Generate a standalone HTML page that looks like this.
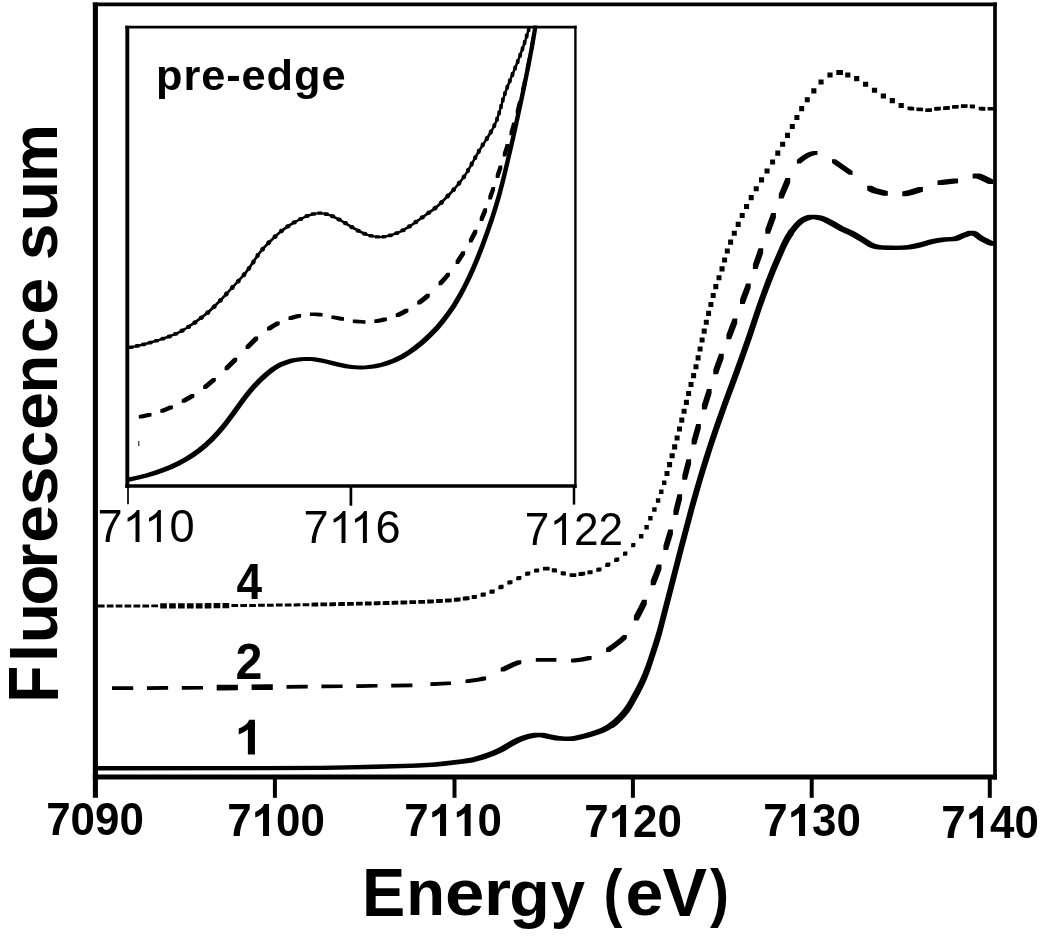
<!DOCTYPE html>
<html><head><meta charset="utf-8"><title>Fluorescence sum vs Energy</title>
<style>
html,body{margin:0;padding:0;background:#fff;}
body{filter:grayscale(1) blur(0.45px);width:1050px;height:937px;overflow:hidden;position:relative;font-family:"Liberation Sans",sans-serif;color:#000;}
svg{position:absolute;left:0;top:0;}
.t{position:absolute;white-space:nowrap;line-height:1;font-family:"Liberation Sans",sans-serif;}
.b{font-weight:bold;}
</style></head><body>
<svg width="1050" height="937" viewBox="0 0 1050 937">
<rect width="1050" height="937" fill="#fff"/>

<g fill="none" stroke="#000" stroke-linejoin="miter">
<path d="M95.4 2.4 V797.8" stroke-width="5.1"/>
<path d="M92.85 4.3 H996.85" stroke-width="3.85"/>
<path d="M995 2.4 V779.6" stroke-width="3.7"/>
<path d="M92.85 777.1 H996.85" stroke-width="5"/>
<path d="M274.9 777 V797.8" stroke-width="4"/>
<path d="M454.5 777 V797.8" stroke-width="4"/>
<path d="M632.9 777 V797.8" stroke-width="4"/>
<path d="M811.7 777 V797.8" stroke-width="4"/>
<path d="M989.8 777 V797.8" stroke-width="4"/>
<path d="M127.3 25.8 V487.9" stroke-width="3.9"/>
<path d="M125.35 27.2 H576.6" stroke-width="2.8"/>
<path d="M575.4 25.8 V487.9" stroke-width="2.4"/>
<path d="M125.35 486 H576.6" stroke-width="3.7"/>
<path d="M128 486 V504.3" stroke-width="1.7"/>
<path d="M350.9 486 V505.7" stroke-width="2.7"/>
<path d="M574 486 V504.6" stroke-width="2.5"/>
<path d="M138.8 441 V446" stroke-width="1"/>
</g>
<path fill="#000" d="M95.7 766.1L264.4 765.9L320.9 765.7L346.0 765.3L374.0 764.6L413.4 763.4L432.0 762.4L439.6 761.7L461.0 759.2L468.5 758.0L471.4 757.4L475.9 756.2L480.6 754.8L486.6 752.7L491.3 750.9L495.8 749.0L500.2 746.8L507.5 742.4L513.1 739.3L515.8 738.0L520.1 736.2L524.6 734.7L529.3 733.6L534.5 732.8L537.8 732.7L542.2 737.1L538.9 737.2L533.7 737.9L529.0 739.1L524.5 740.6L520.2 742.3L517.4 743.7L511.8 746.8L504.5 751.2L500.1 753.3L495.7 755.3L491.0 757.1L484.9 759.2L480.2 760.6L475.7 761.8L472.8 762.4L465.4 763.6L444.0 766.1L436.4 766.8L417.8 767.7L378.4 768.9L350.4 769.6L325.2 770.0L268.8 770.3L100.1 770.5ZM95.7 766.1h4.3v4.3h-4.3ZM537.8 732.7h4.3v4.3h-4.3ZM542.2 732.7L545.2 733.1L551.2 734.4L559.7 736.0L564.8 736.5L569.9 736.7L565.6 741.0L560.4 740.8L555.3 740.4L546.8 738.8L540.9 737.4L537.8 737.1ZM537.8 732.7h4.3v4.3h-4.3ZM565.6 736.7h4.3v4.3h-4.3ZM565.6 736.7L569.0 736.5L573.5 735.9L584.0 733.4L589.9 731.8L596.0 729.7L600.6 727.9L604.9 725.7L608.9 723.3L613.3 727.6L609.3 730.1L604.9 732.2L600.3 734.1L594.3 736.1L588.4 737.8L577.9 740.2L573.4 740.9L569.9 741.0ZM565.6 736.7h4.3v4.3h-4.3ZM608.9 723.3h4.3v4.3h-4.3Z"/>
<path fill="#000" d="M608.7 723.1L611.2 721.3L613.7 719.2L618.3 714.8L622.6 709.8L624.6 707.1L626.4 704.4L628.9 700.2L635.1 689.1L638.6 682.3L642.3 674.1L645.6 665.4L648.1 658.3L654.3 638.9L657.0 629.9L679.5 542.7L689.6 504.7L693.5 490.9L698.9 472.4L703.9 456.2L708.1 443.2L714.0 425.7L722.4 402.0L734.1 370.3L741.4 350.0L747.3 333.0L756.2 306.6L761.0 292.9L765.2 281.5L771.1 266.6L780.4 244.9L782.3 241.0L784.8 236.3L787.3 232.2L788.9 229.7L793.7 234.4L792.0 237.0L789.6 241.1L787.1 245.8L785.2 249.7L775.9 271.3L770.0 286.2L765.8 297.6L760.9 311.3L752.1 337.7L746.1 354.7L738.9 375.0L727.1 406.7L718.7 430.5L712.8 448.0L708.7 460.9L703.7 477.1L698.3 495.7L694.4 509.4L684.3 547.5L661.8 634.7L659.1 643.7L652.8 663.0L650.4 670.2L647.0 678.9L643.4 687.0L639.8 693.9L633.7 705.0L631.2 709.2L629.4 711.9L627.4 714.5L623.0 719.5L618.4 724.0L616.0 726.0L613.5 727.8ZM608.7 723.1h4.8v4.8h-4.8ZM788.9 229.7h4.8v4.8h-4.8Z"/>
<path fill="#000" d="M788.3 231.1L791.1 227.3L794.2 223.4L796.4 221.2L798.6 219.2L801.4 217.5L804.4 216.1L807.4 215.1L810.5 214.7L814.8 219.0L811.7 219.4L808.7 220.4L805.7 221.8L802.9 223.6L800.7 225.5L798.5 227.7L795.4 231.6L792.6 235.4ZM788.3 231.1h4.3v4.3h-4.3ZM810.5 214.7h4.3v4.3h-4.3ZM814.8 214.7L818.2 214.9L821.6 215.6L824.8 216.5L827.8 217.8L835.1 221.6L843.9 226.8L852.7 230.6L855.6 232.1L865.4 238.0L872.0 242.2L874.7 243.5L876.0 244.0L879.0 244.8L882.0 245.2L891.5 245.6L896.5 245.8L892.2 250.1L887.2 249.9L877.8 249.5L874.7 249.1L871.8 248.3L870.4 247.8L867.7 246.5L861.1 242.3L851.3 236.4L848.4 234.9L839.6 231.1L830.8 225.9L823.5 222.1L820.5 220.8L817.3 219.9L813.9 219.2L810.5 219.0ZM810.5 214.7h4.3v4.3h-4.3ZM892.2 245.8h4.3v4.3h-4.3ZM892.2 245.8L901.6 245.5L907.6 244.9L912.1 244.1L916.6 243.1L921.0 242.0L928.6 239.7L933.1 238.7L937.6 237.9L943.5 237.2L950.5 236.9L953.8 236.4L955.3 236.0L960.8 233.5L965.7 231.7L967.4 231.1L969.1 230.8L973.4 235.1L971.7 235.4L970.0 236.0L965.1 237.8L959.6 240.3L958.0 240.8L954.8 241.2L947.8 241.6L941.9 242.2L937.4 243.0L932.9 244.0L925.3 246.3L920.9 247.4L916.4 248.4L911.9 249.2L905.9 249.8L896.5 250.1ZM892.2 245.8h4.3v4.3h-4.3ZM969.1 230.8h4.3v4.3h-4.3ZM973.4 230.8L975.1 230.9L976.6 231.4L978.0 232.3L982.2 235.5L985.1 237.3L992.1 240.7L994.4 241.4L995.5 241.5L991.2 245.8L990.1 245.7L987.9 245.0L980.8 241.6L977.9 239.8L973.7 236.6L972.3 235.7L970.9 235.2L969.1 235.1ZM969.1 230.8h4.3v4.3h-4.3ZM991.2 241.5h4.3v4.3h-4.3Z"/>
<path fill="#000" d="M112.0 686.2L129.5 686.2L133.2 689.9L115.7 689.9ZM112.0 686.2h3.7v3.7h-3.7ZM129.5 686.2h3.7v3.7h-3.7ZM146.9 686.2L164.4 686.1L168.1 689.8L150.6 689.9ZM146.9 686.2h3.7v3.7h-3.7ZM164.4 686.1h3.7v3.7h-3.7ZM181.8 686.0L199.3 685.9L203.0 689.6L185.5 689.7ZM181.8 686.0h3.7v3.7h-3.7ZM199.3 685.9h3.7v3.7h-3.7ZM216.7 684.8L232.3 684.7L237.9 690.3L222.3 690.4ZM216.7 684.8h5.6v5.6h-5.6ZM232.3 684.7h5.6v5.6h-5.6ZM251.6 684.4L267.2 684.3L272.8 689.9L257.2 690.0ZM251.6 684.4h5.6v5.6h-5.6ZM267.2 684.3h5.6v5.6h-5.6ZM286.5 685.0L304.0 684.8L307.7 688.5L290.2 688.7ZM286.5 685.0h3.7v3.7h-3.7ZM304.0 684.8h3.7v3.7h-3.7ZM321.4 684.6L338.9 684.4L342.6 688.1L325.1 688.3ZM321.4 684.6h3.7v3.7h-3.7ZM338.9 684.4h3.7v3.7h-3.7ZM356.3 684.2L373.8 683.9L377.5 687.6L360.0 687.9ZM356.3 684.2h3.7v3.7h-3.7ZM373.8 683.9h3.7v3.7h-3.7ZM391.2 683.7L408.7 683.5L412.4 687.2L394.9 687.4ZM391.2 683.7h3.7v3.7h-3.7ZM408.7 683.5h3.7v3.7h-3.7Z"/>
<path fill="#000" d="M430.4 682.2L447.3 681.4L451.0 685.1L434.1 685.9ZM430.4 682.2h3.7v3.7h-3.7ZM447.3 681.4h3.7v3.7h-3.7ZM465.5 679.4L475.8 677.9L478.9 677.4L482.4 676.5L486.1 680.2L482.6 681.1L479.5 681.6L469.2 683.1ZM465.5 679.4h3.7v3.7h-3.7ZM482.4 676.5h3.7v3.7h-3.7ZM500.7 667.7L511.7 662.6L517.6 660.3L521.3 664.0L515.4 666.3L504.4 671.4ZM500.7 667.7h3.7v3.7h-3.7ZM517.6 660.3h3.7v3.7h-3.7ZM535.8 658.0L540.0 657.9L543.7 661.6L539.5 661.7ZM535.8 658.0h3.7v3.7h-3.7ZM540.0 657.9h3.7v3.7h-3.7ZM543.7 657.9L556.4 658.1L552.7 661.8L540.0 661.6ZM540.0 657.9h3.7v3.7h-3.7ZM552.7 658.1h3.7v3.7h-3.7ZM571.0 658.7L579.6 657.7L584.6 656.8L587.9 656.0L591.6 659.7L588.3 660.5L583.3 661.4L574.7 662.4ZM571.0 658.7h3.7v3.7h-3.7ZM587.9 656.0h3.7v3.7h-3.7ZM606.1 648.1L611.3 644.5L615.3 641.5L619.1 638.4L623.0 634.9L626.8 638.7L622.9 642.2L619.1 645.3L615.1 648.3L609.9 651.9ZM606.1 648.1h3.8v3.8h-3.8ZM623.0 634.9h3.8v3.8h-3.8ZM633.9 615.7L638.3 607.4L642.1 599.8L646.8 604.5L643.0 612.1L638.6 620.4ZM633.9 615.7h4.7v4.7h-4.7ZM642.1 599.8h4.7v4.7h-4.7ZM650.7 580.5L654.0 572.3L656.8 564.6L661.5 569.3L658.7 577.0L655.4 585.2ZM650.7 580.5h4.7v4.7h-4.7ZM656.8 564.6h4.7v4.7h-4.7ZM663.4 545.4L668.2 529.5L672.9 534.2L668.1 550.1ZM663.4 545.4h4.7v4.7h-4.7ZM668.2 529.5h4.7v4.7h-4.7ZM673.4 510.2L677.4 494.3L682.1 499.0L678.1 514.9ZM673.4 510.2h4.7v4.7h-4.7ZM677.4 494.3h4.7v4.7h-4.7ZM682.3 475.1L686.4 459.2L691.1 463.9L687.0 479.8ZM682.3 475.1h4.7v4.7h-4.7ZM686.4 459.2h4.7v4.7h-4.7ZM691.6 439.9L696.1 424.0L700.8 428.7L696.3 444.6ZM691.6 439.9h4.7v4.7h-4.7ZM696.1 424.0h4.7v4.7h-4.7ZM701.9 404.8L706.9 388.9L711.6 393.6L706.6 409.5ZM701.9 404.8h4.7v4.7h-4.7ZM706.9 388.9h4.7v4.7h-4.7ZM713.3 369.6L719.0 353.7L723.7 358.4L718.0 374.3ZM713.3 369.6h4.7v4.7h-4.7ZM719.0 353.7h4.7v4.7h-4.7ZM726.4 334.5L732.6 318.6L737.3 323.3L731.1 339.2ZM726.4 334.5h4.7v4.7h-4.7ZM732.6 318.6h4.7v4.7h-4.7ZM740.0 299.3L746.0 283.4L750.7 288.1L744.7 304.0ZM740.0 299.3h4.7v4.7h-4.7ZM746.0 283.4h4.7v4.7h-4.7ZM752.9 264.2L758.5 248.3L763.2 253.0L757.6 268.9ZM752.9 264.2h4.7v4.7h-4.7ZM758.5 248.3h4.7v4.7h-4.7ZM765.3 229.0L771.2 213.1L775.9 217.8L770.0 233.7ZM765.3 229.0h4.7v4.7h-4.7ZM771.2 213.1h4.7v4.7h-4.7ZM778.8 193.9L785.5 178.0L790.2 182.7L783.5 198.6ZM778.8 193.9h4.7v4.7h-4.7ZM785.5 178.0h4.7v4.7h-4.7ZM796.9 159.8L799.4 157.8L802.0 155.8L806.1 153.3L809.0 152.0L810.7 151.5L813.7 150.9L817.5 154.7L814.5 155.3L812.8 155.8L809.9 157.1L805.8 159.6L803.2 161.6L800.7 163.6ZM796.9 159.8h3.8v3.8h-3.8ZM813.7 150.9h3.8v3.8h-3.8ZM835.8 159.2L852.6 171.0L848.8 174.8L832.0 163.0ZM832.0 159.2h3.8v3.8h-3.8ZM848.8 171.0h3.8v3.8h-3.8ZM871.9 185.7L873.7 186.8L876.8 188.2L887.8 191.1L883.1 195.8L872.1 192.9L869.0 191.5L867.2 190.4ZM867.2 185.7h4.7v4.7h-4.7ZM883.1 191.1h4.7v4.7h-4.7ZM902.3 191.6L908.7 190.0L918.2 187.1L922.9 191.8L913.4 194.7L907.0 196.3ZM902.3 191.6h4.7v4.7h-4.7ZM918.2 187.1h4.7v4.7h-4.7ZM937.5 180.4L942.5 179.7L953.4 178.6L958.1 183.3L947.2 184.4L942.2 185.1ZM937.5 180.4h4.7v4.7h-4.7ZM953.4 178.6h4.7v4.7h-4.7ZM972.6 173.7L974.8 173.5L979.5 178.2L977.3 178.4ZM972.6 173.7h4.7v4.7h-4.7ZM974.8 173.5h4.7v4.7h-4.7ZM979.5 173.5L980.8 173.8L984.1 175.1L993.2 179.4L988.5 184.1L979.4 179.8L976.1 178.5L974.8 178.2ZM974.8 173.5h4.7v4.7h-4.7ZM988.5 179.4h4.7v4.7h-4.7Z"/>
<path fill="#000" d="M97.9 604.6L101.8 604.6L104.6 607.4L100.7 607.4ZM97.9 604.6h2.8v2.8h-2.8ZM101.8 604.6h2.8v2.8h-2.8ZM106.8 604.6L110.7 604.6L113.5 607.4L109.6 607.4ZM106.8 604.6h2.8v2.8h-2.8ZM110.7 604.6h2.8v2.8h-2.8ZM115.7 604.6L119.6 604.6L122.4 607.4L118.5 607.4ZM115.7 604.6h2.8v2.8h-2.8ZM119.6 604.6h2.8v2.8h-2.8ZM124.6 604.6L128.5 604.6L131.3 607.4L127.4 607.4ZM124.6 604.6h2.8v2.8h-2.8ZM128.5 604.6h2.8v2.8h-2.8ZM133.5 604.6L137.4 604.6L140.2 607.4L136.3 607.4ZM133.5 604.6h2.8v2.8h-2.8ZM137.4 604.6h2.8v2.8h-2.8ZM142.4 604.6L146.3 604.6L149.1 607.4L145.2 607.4ZM142.4 604.6h2.8v2.8h-2.8ZM146.3 604.6h2.8v2.8h-2.8ZM151.3 604.5L155.2 604.5L158.0 607.3L154.1 607.3ZM151.3 604.5h2.8v2.8h-2.8ZM155.2 604.5h2.8v2.8h-2.8ZM160.2 603.3L161.7 603.3L166.9 608.5L165.4 608.5ZM160.2 603.3h5.2v5.2h-5.2ZM161.7 603.3h5.2v5.2h-5.2ZM169.1 603.3L170.6 603.3L175.8 608.5L174.3 608.5ZM169.1 603.3h5.2v5.2h-5.2ZM170.6 603.3h5.2v5.2h-5.2ZM178.0 603.3L179.5 603.3L184.7 608.5L183.2 608.5ZM178.0 603.3h5.2v5.2h-5.2ZM179.5 603.3h5.2v5.2h-5.2ZM186.9 603.3L188.4 603.2L193.6 608.4L192.1 608.5ZM186.9 603.3h5.2v5.2h-5.2ZM188.4 603.2h5.2v5.2h-5.2ZM195.8 603.2L197.3 603.2L202.5 608.4L201.0 608.4ZM195.8 603.2h5.2v5.2h-5.2ZM197.3 603.2h5.2v5.2h-5.2ZM204.7 603.2L206.2 603.1L211.4 608.3L209.9 608.4ZM204.7 603.2h5.2v5.2h-5.2ZM206.2 603.1h5.2v5.2h-5.2ZM213.6 603.1L215.1 603.1L220.3 608.3L218.8 608.3ZM213.6 603.1h5.2v5.2h-5.2ZM215.1 603.1h5.2v5.2h-5.2ZM222.5 603.0L224.0 603.0L229.2 608.2L227.7 608.2ZM222.5 603.0h5.2v5.2h-5.2ZM224.0 603.0h5.2v5.2h-5.2ZM231.4 604.1L235.1 604.0L238.1 607.0L234.4 607.1ZM231.4 604.1h3.0v3.0h-3.0ZM235.1 604.0h3.0v3.0h-3.0ZM240.3 604.0L244.0 603.9L247.0 606.9L243.3 607.0ZM240.3 604.0h3.0v3.0h-3.0ZM244.0 603.9h3.0v3.0h-3.0ZM249.2 603.9L252.9 603.9L255.9 606.9L252.2 606.9ZM249.2 603.9h3.0v3.0h-3.0ZM252.9 603.9h3.0v3.0h-3.0ZM258.1 603.8L261.8 603.8L264.8 606.8L261.1 606.8ZM258.1 603.8h3.0v3.0h-3.0ZM261.8 603.8h3.0v3.0h-3.0ZM267.0 603.7L270.7 603.7L273.7 606.7L270.0 606.7ZM267.0 603.7h3.0v3.0h-3.0ZM270.7 603.7h3.0v3.0h-3.0ZM275.9 603.6L279.6 603.6L282.6 606.6L278.9 606.6ZM275.9 603.6h3.0v3.0h-3.0ZM279.6 603.6h3.0v3.0h-3.0ZM284.8 603.5L288.5 603.4L291.5 606.4L287.8 606.5ZM284.8 603.5h3.0v3.0h-3.0ZM288.5 603.4h3.0v3.0h-3.0ZM293.7 603.4L297.4 603.3L300.4 606.3L296.7 606.4ZM293.7 603.4h3.0v3.0h-3.0ZM297.4 603.3h3.0v3.0h-3.0ZM302.6 603.2L306.3 603.2L309.3 606.2L305.6 606.2ZM302.6 603.2h3.0v3.0h-3.0ZM306.3 603.2h3.0v3.0h-3.0ZM311.5 602.7L314.4 602.6L318.2 606.4L315.3 606.5ZM311.5 602.7h3.8v3.8h-3.8ZM314.4 602.6h3.8v3.8h-3.8ZM320.4 602.5L323.3 602.5L327.1 606.3L324.2 606.3ZM320.4 602.5h3.8v3.8h-3.8ZM323.3 602.5h3.8v3.8h-3.8ZM329.3 602.4L332.2 602.3L336.0 606.1L333.1 606.2ZM329.3 602.4h3.8v3.8h-3.8ZM332.2 602.3h3.8v3.8h-3.8ZM338.2 602.2L341.1 602.1L344.9 605.9L342.0 606.0ZM338.2 602.2h3.8v3.8h-3.8ZM341.1 602.1h3.8v3.8h-3.8ZM347.1 602.0L350.0 602.0L353.8 605.8L350.9 605.8ZM347.1 602.0h3.8v3.8h-3.8ZM350.0 602.0h3.8v3.8h-3.8ZM356.0 601.8L358.9 601.8L362.7 605.6L359.8 605.6ZM356.0 601.8h3.8v3.8h-3.8ZM358.9 601.8h3.8v3.8h-3.8ZM364.9 601.6L367.8 601.6L371.6 605.4L368.7 605.4ZM364.9 601.6h3.8v3.8h-3.8ZM367.8 601.6h3.8v3.8h-3.8ZM373.8 601.4L376.7 601.3L380.5 605.1L377.6 605.2ZM373.8 601.4h3.8v3.8h-3.8ZM376.7 601.3h3.8v3.8h-3.8ZM382.7 601.2L385.6 601.1L389.4 604.9L386.5 605.0ZM382.7 601.2h3.8v3.8h-3.8ZM385.6 601.1h3.8v3.8h-3.8ZM391.6 600.9L394.5 600.8L398.3 604.6L395.4 604.7ZM391.6 600.9h3.8v3.8h-3.8ZM394.5 600.8h3.8v3.8h-3.8ZM400.5 600.6L403.4 600.5L407.2 604.3L404.3 604.4ZM400.5 600.6h3.8v3.8h-3.8ZM403.4 600.5h3.8v3.8h-3.8ZM409.4 600.3L412.3 600.2L416.1 604.0L413.2 604.1ZM409.4 600.3h3.8v3.8h-3.8ZM412.3 600.2h3.8v3.8h-3.8ZM418.3 600.0L421.2 599.9L425.0 603.7L422.1 603.8ZM418.3 600.0h3.8v3.8h-3.8ZM421.2 599.9h3.8v3.8h-3.8ZM427.2 599.6L430.1 599.5L433.9 603.3L431.0 603.4ZM427.2 599.6h3.8v3.8h-3.8ZM430.1 599.5h3.8v3.8h-3.8ZM436.1 599.1L439.0 598.9L442.8 602.7L439.9 602.9ZM436.1 599.1h3.8v3.8h-3.8ZM439.0 598.9h3.8v3.8h-3.8ZM445.0 598.7L447.9 598.5L451.7 602.3L448.8 602.5ZM445.0 598.7h3.8v3.8h-3.8ZM447.9 598.5h3.8v3.8h-3.8ZM453.9 597.9L456.8 597.5L460.6 601.3L457.7 601.7ZM453.9 597.9h3.8v3.8h-3.8ZM456.8 597.5h3.8v3.8h-3.8ZM462.8 596.8L465.7 596.3L469.5 600.1L466.6 600.6ZM462.8 596.8h3.8v3.8h-3.8ZM465.7 596.3h3.8v3.8h-3.8ZM471.7 595.2L473.1 594.9L476.9 598.7L475.5 599.0ZM471.7 595.2h3.8v3.8h-3.8ZM473.1 594.9h3.8v3.8h-3.8ZM480.6 593.0L482.0 592.5L485.8 596.3L484.4 596.8ZM480.6 593.0h3.8v3.8h-3.8ZM482.0 592.5h3.8v3.8h-3.8ZM489.5 590.0L490.9 589.4L494.7 593.2L493.3 593.8ZM489.5 590.0h3.8v3.8h-3.8ZM490.9 589.4h3.8v3.8h-3.8ZM498.4 585.7L500.0 584.8L503.6 588.4L502.0 589.3ZM498.4 585.7h3.6v3.6h-3.6ZM500.0 584.8h3.6v3.6h-3.6ZM507.3 581.0L508.9 580.2L512.5 583.8L510.9 584.6ZM507.3 581.0h3.6v3.6h-3.6ZM508.9 580.2h3.6v3.6h-3.6ZM516.2 576.7L517.8 575.9L521.4 579.5L519.8 580.3ZM516.2 576.7h3.6v3.6h-3.6ZM517.8 575.9h3.6v3.6h-3.6ZM525.1 572.2L526.7 571.4L530.3 575.0L528.7 575.8ZM525.1 572.2h3.6v3.6h-3.6ZM526.7 571.4h3.6v3.6h-3.6ZM534.0 569.0L535.6 568.6L539.2 572.2L537.6 572.6ZM534.0 569.0h3.6v3.6h-3.6ZM535.6 568.6h3.6v3.6h-3.6ZM542.9 566.9L544.9 566.8L548.5 570.4L546.5 570.5ZM542.9 566.9h3.6v3.6h-3.6ZM544.9 566.8h3.6v3.6h-3.6ZM548.5 566.8L549.6 566.9L546.0 570.5L544.9 570.4ZM544.9 566.8h3.6v3.6h-3.6ZM546.0 566.9h3.6v3.6h-3.6ZM555.4 568.3L557.0 568.8L553.4 572.4L551.8 571.9ZM551.8 568.3h3.6v3.6h-3.6ZM553.4 568.8h3.6v3.6h-3.6ZM564.3 571.3L565.9 571.8L562.3 575.4L560.7 574.9ZM560.7 571.3h3.6v3.6h-3.6ZM562.3 571.8h3.6v3.6h-3.6ZM573.2 573.2L575.0 573.3L571.4 576.9L569.6 576.8ZM569.6 573.2h3.6v3.6h-3.6ZM571.4 573.3h3.6v3.6h-3.6ZM571.4 573.3L572.7 573.2L576.3 576.8L575.0 576.9ZM571.4 573.3h3.6v3.6h-3.6ZM572.7 573.2h3.6v3.6h-3.6ZM578.5 572.3L581.6 571.7L585.2 575.3L582.1 575.9ZM578.5 572.3h3.6v3.6h-3.6ZM581.6 571.7h3.6v3.6h-3.6ZM587.4 570.7L589.0 570.3L592.6 573.9L591.0 574.3ZM587.4 570.7h3.6v3.6h-3.6ZM589.0 570.3h3.6v3.6h-3.6ZM596.3 568.1L597.9 567.4L601.5 571.0L599.9 571.7ZM596.3 568.1h3.6v3.6h-3.6ZM597.9 567.4h3.6v3.6h-3.6ZM605.2 563.4L606.8 562.5L610.4 566.1L608.8 567.0ZM605.2 563.4h3.6v3.6h-3.6ZM606.8 562.5h3.6v3.6h-3.6ZM614.1 558.5L615.7 557.5L619.3 561.1L617.7 562.1ZM614.1 558.5h3.6v3.6h-3.6ZM615.7 557.5h3.6v3.6h-3.6ZM623.0 552.2L623.8 551.5L627.4 555.1L626.6 555.8ZM623.0 552.2h3.6v3.6h-3.6ZM623.8 551.5h3.6v3.6h-3.6ZM631.1 543.7L631.8 542.9L635.4 546.5L634.7 547.3ZM631.1 543.7h3.6v3.6h-3.6ZM631.8 542.9h3.6v3.6h-3.6ZM638.9 534.0L639.0 533.9L643.4 538.3L643.3 538.4ZM638.9 534.0h4.4v4.4h-4.4ZM639.0 533.9h4.4v4.4h-4.4ZM644.4 525.1L644.4 525.0L648.8 529.4L648.8 529.5ZM644.4 525.1h4.4v4.4h-4.4ZM644.4 525.0h4.4v4.4h-4.4ZM648.2 516.2L648.2 516.1L652.6 520.5L652.6 520.6ZM648.2 516.2h4.4v4.4h-4.4ZM648.2 516.1h4.4v4.4h-4.4ZM652.2 507.3L652.2 507.2L656.6 511.6L656.6 511.7ZM652.2 507.3h4.4v4.4h-4.4ZM652.2 507.2h4.4v4.4h-4.4ZM655.9 498.4L655.9 498.3L660.3 502.7L660.3 502.8ZM655.9 498.4h4.4v4.4h-4.4ZM655.9 498.3h4.4v4.4h-4.4ZM659.1 489.5L659.1 489.4L663.5 493.8L663.5 493.9ZM659.1 489.5h4.4v4.4h-4.4ZM659.1 489.4h4.4v4.4h-4.4ZM662.0 480.6L662.0 480.5L666.4 484.9L666.4 485.0ZM662.0 480.6h4.4v4.4h-4.4ZM662.0 480.5h4.4v4.4h-4.4ZM664.5 471.1L664.5 471.0L669.5 476.0L669.5 476.1ZM664.5 471.1h5.0v5.0h-5.0ZM664.5 471.0h5.0v5.0h-5.0ZM667.1 462.2L667.1 462.1L672.1 467.1L672.1 467.2ZM667.1 462.2h5.0v5.0h-5.0ZM667.1 462.1h5.0v5.0h-5.0ZM669.6 453.3L669.7 453.2L674.7 458.2L674.6 458.3ZM669.6 453.3h5.0v5.0h-5.0ZM669.7 453.2h5.0v5.0h-5.0ZM672.1 444.4L672.2 444.3L677.2 449.3L677.1 449.4ZM672.1 444.4h5.0v5.0h-5.0ZM672.2 444.3h5.0v5.0h-5.0ZM674.6 435.5L674.6 435.4L679.6 440.4L679.6 440.5ZM674.6 435.5h5.0v5.0h-5.0ZM674.6 435.4h5.0v5.0h-5.0ZM677.0 426.6L677.0 426.5L682.0 431.5L682.0 431.6ZM677.0 426.6h5.0v5.0h-5.0ZM677.0 426.5h5.0v5.0h-5.0ZM679.3 417.7L679.3 417.6L684.3 422.6L684.3 422.7ZM679.3 417.7h5.0v5.0h-5.0ZM679.3 417.6h5.0v5.0h-5.0ZM681.6 408.8L681.6 408.7L686.6 413.7L686.6 413.8ZM681.6 408.8h5.0v5.0h-5.0ZM681.6 408.7h5.0v5.0h-5.0ZM683.9 399.9L683.9 399.8L688.9 404.8L688.9 404.9ZM683.9 399.9h5.0v5.0h-5.0ZM683.9 399.8h5.0v5.0h-5.0ZM686.1 391.0L686.1 390.9L691.1 395.9L691.1 396.0ZM686.1 391.0h5.0v5.0h-5.0ZM686.1 390.9h5.0v5.0h-5.0ZM688.5 382.1L688.5 382.0L693.5 387.0L693.5 387.1ZM688.5 382.1h5.0v5.0h-5.0ZM688.5 382.0h5.0v5.0h-5.0ZM691.1 373.2L691.1 373.1L696.1 378.1L696.1 378.2ZM691.1 373.2h5.0v5.0h-5.0ZM691.1 373.1h5.0v5.0h-5.0ZM693.5 364.3L693.5 364.2L698.5 369.2L698.5 369.3ZM693.5 364.3h5.0v5.0h-5.0ZM693.5 364.2h5.0v5.0h-5.0ZM695.6 355.4L695.6 355.3L700.6 360.3L700.6 360.4ZM695.6 355.4h5.0v5.0h-5.0ZM695.6 355.3h5.0v5.0h-5.0ZM697.6 346.5L697.6 346.4L702.6 351.4L702.6 351.5ZM697.6 346.5h5.0v5.0h-5.0ZM697.6 346.4h5.0v5.0h-5.0ZM699.6 337.6L699.6 337.5L704.6 342.5L704.6 342.6ZM699.6 337.6h5.0v5.0h-5.0ZM699.6 337.5h5.0v5.0h-5.0ZM701.7 328.7L701.7 328.6L706.7 333.6L706.7 333.7ZM701.7 328.7h5.0v5.0h-5.0ZM701.7 328.6h5.0v5.0h-5.0ZM703.8 319.8L703.8 319.7L708.8 324.7L708.8 324.8ZM703.8 319.8h5.0v5.0h-5.0ZM703.8 319.7h5.0v5.0h-5.0ZM706.1 310.9L706.1 310.8L711.1 315.8L711.1 315.9ZM706.1 310.9h5.0v5.0h-5.0ZM706.1 310.8h5.0v5.0h-5.0ZM708.4 302.0L708.4 301.9L713.4 306.9L713.4 307.0ZM708.4 302.0h5.0v5.0h-5.0ZM708.4 301.9h5.0v5.0h-5.0ZM710.7 293.1L710.7 293.0L715.7 298.0L715.7 298.1ZM710.7 293.1h5.0v5.0h-5.0ZM710.7 293.0h5.0v5.0h-5.0ZM713.3 284.2L713.3 284.1L718.3 289.1L718.3 289.2ZM713.3 284.2h5.0v5.0h-5.0ZM713.3 284.1h5.0v5.0h-5.0ZM716.5 275.3L716.5 275.2L721.5 280.2L721.5 280.3ZM716.5 275.3h5.0v5.0h-5.0ZM716.5 275.2h5.0v5.0h-5.0ZM719.5 266.4L719.6 266.3L724.6 271.3L724.5 271.4ZM719.5 266.4h5.0v5.0h-5.0ZM719.6 266.3h5.0v5.0h-5.0ZM722.1 257.5L722.1 257.4L727.1 262.4L727.1 262.5ZM722.1 257.5h5.0v5.0h-5.0ZM722.1 257.4h5.0v5.0h-5.0ZM724.8 248.6L724.8 248.5L729.8 253.5L729.8 253.6ZM724.8 248.6h5.0v5.0h-5.0ZM724.8 248.5h5.0v5.0h-5.0ZM728.1 239.7L728.1 239.6L733.1 244.6L733.1 244.7ZM728.1 239.7h5.0v5.0h-5.0ZM728.1 239.6h5.0v5.0h-5.0ZM731.8 230.8L731.8 230.7L736.8 235.7L736.8 235.8ZM731.8 230.8h5.0v5.0h-5.0ZM731.8 230.7h5.0v5.0h-5.0ZM735.7 221.9L735.7 221.8L740.7 226.8L740.7 226.9ZM735.7 221.9h5.0v5.0h-5.0ZM735.7 221.8h5.0v5.0h-5.0ZM739.7 213.0L739.7 212.9L744.7 217.9L744.7 218.0ZM739.7 213.0h5.0v5.0h-5.0ZM739.7 212.9h5.0v5.0h-5.0ZM744.0 204.1L744.1 204.0L749.1 209.0L749.0 209.1ZM744.0 204.1h5.0v5.0h-5.0ZM744.1 204.0h5.0v5.0h-5.0ZM748.7 195.2L748.7 195.1L753.7 200.1L753.7 200.2ZM748.7 195.2h5.0v5.0h-5.0ZM748.7 195.1h5.0v5.0h-5.0ZM753.7 186.3L753.7 186.2L758.7 191.2L758.7 191.3ZM753.7 186.3h5.0v5.0h-5.0ZM753.7 186.2h5.0v5.0h-5.0ZM759.0 177.4L759.1 177.3L764.1 182.3L764.0 182.4ZM759.0 177.4h5.0v5.0h-5.0ZM759.1 177.3h5.0v5.0h-5.0ZM764.5 168.5L764.6 168.4L769.6 173.4L769.5 173.5ZM764.5 168.5h5.0v5.0h-5.0ZM764.6 168.4h5.0v5.0h-5.0ZM770.1 159.6L770.1 159.5L775.1 164.5L775.1 164.6ZM770.1 159.6h5.0v5.0h-5.0ZM770.1 159.5h5.0v5.0h-5.0ZM775.3 150.7L775.3 150.6L780.3 155.6L780.3 155.7ZM775.3 150.7h5.0v5.0h-5.0ZM775.3 150.6h5.0v5.0h-5.0ZM780.1 141.8L780.2 141.7L785.2 146.7L785.1 146.8ZM780.1 141.8h5.0v5.0h-5.0ZM780.2 141.7h5.0v5.0h-5.0ZM785.0 132.9L785.0 132.8L790.0 137.8L790.0 137.9ZM785.0 132.9h5.0v5.0h-5.0ZM785.0 132.8h5.0v5.0h-5.0ZM789.8 124.0L789.8 123.9L794.8 128.9L794.8 129.0ZM789.8 124.0h5.0v5.0h-5.0ZM789.8 123.9h5.0v5.0h-5.0ZM794.4 115.1L794.4 115.0L799.4 120.0L799.4 120.1ZM794.4 115.1h5.0v5.0h-5.0ZM794.4 115.0h5.0v5.0h-5.0ZM799.2 106.2L799.2 106.1L804.2 111.1L804.2 111.2ZM799.2 106.2h5.0v5.0h-5.0ZM799.2 106.1h5.0v5.0h-5.0ZM804.8 97.3L804.8 97.2L809.8 102.2L809.8 102.3ZM804.8 97.3h5.0v5.0h-5.0ZM804.8 97.2h5.0v5.0h-5.0ZM811.3 88.4L811.4 88.3L816.4 93.3L816.3 93.4ZM811.3 88.4h5.0v5.0h-5.0ZM811.4 88.3h5.0v5.0h-5.0ZM818.5 79.5L818.6 79.4L823.6 84.4L823.5 84.5ZM818.5 79.5h5.0v5.0h-5.0ZM818.6 79.4h5.0v5.0h-5.0ZM827.4 72.6L827.6 72.5L832.6 77.5L832.4 77.6ZM827.4 72.6h5.0v5.0h-5.0ZM827.6 72.5h5.0v5.0h-5.0ZM841.3 69.9L843.0 70.1L838.0 75.1L836.3 74.9ZM836.3 69.9h5.0v5.0h-5.0ZM838.0 70.1h5.0v5.0h-5.0ZM850.2 72.5L850.4 72.6L845.4 77.6L845.2 77.5ZM845.2 72.5h5.0v5.0h-5.0ZM845.4 72.6h5.0v5.0h-5.0ZM859.1 76.1L859.3 76.2L854.3 81.2L854.1 81.1ZM854.1 76.1h5.0v5.0h-5.0ZM854.3 76.2h5.0v5.0h-5.0ZM868.0 81.7L868.2 81.8L863.2 86.8L863.0 86.7ZM863.0 81.7h5.0v5.0h-5.0ZM863.2 81.8h5.0v5.0h-5.0ZM876.9 87.7L877.1 87.8L872.1 92.8L871.9 92.7ZM871.9 87.7h5.0v5.0h-5.0ZM872.1 87.8h5.0v5.0h-5.0ZM885.8 93.4L886.0 93.5L881.0 98.5L880.8 98.4ZM880.8 93.4h5.0v5.0h-5.0ZM881.0 93.5h5.0v5.0h-5.0ZM894.7 98.1L894.9 98.2L889.9 103.2L889.7 103.1ZM889.7 98.1h5.0v5.0h-5.0ZM889.9 98.2h5.0v5.0h-5.0ZM903.6 103.0L903.8 103.1L898.8 108.1L898.6 108.0ZM898.6 103.0h5.0v5.0h-5.0ZM898.8 103.1h5.0v5.0h-5.0ZM911.1 106.4L914.2 107.0L910.6 110.6L907.5 110.0ZM907.5 106.4h3.6v3.6h-3.6ZM910.6 107.0h3.6v3.6h-3.6ZM920.0 107.4L923.1 107.7L919.5 111.3L916.4 111.0ZM916.4 107.4h3.6v3.6h-3.6ZM919.5 107.7h3.6v3.6h-3.6ZM928.9 108.5L929.2 108.5L925.6 112.1L925.3 112.1ZM925.3 108.5h3.6v3.6h-3.6ZM925.6 108.5h3.6v3.6h-3.6ZM925.6 108.5L928.4 108.2L932.0 111.8L929.2 112.1ZM925.6 108.5h3.6v3.6h-3.6ZM928.4 108.2h3.6v3.6h-3.6ZM934.2 107.1L937.3 106.7L940.9 110.3L937.8 110.7ZM934.2 107.1h3.6v3.6h-3.6ZM937.3 106.7h3.6v3.6h-3.6ZM943.1 106.5L946.2 106.1L949.8 109.7L946.7 110.1ZM943.1 106.5h3.6v3.6h-3.6ZM946.2 106.1h3.6v3.6h-3.6ZM952.0 105.2L955.1 104.9L958.7 108.5L955.6 108.8ZM952.0 105.2h3.6v3.6h-3.6ZM955.1 104.9h3.6v3.6h-3.6ZM960.9 104.3L964.0 104.2L967.6 107.8L964.5 107.9ZM960.9 104.3h3.6v3.6h-3.6ZM964.0 104.2h3.6v3.6h-3.6ZM973.4 104.5L975.0 104.8L971.4 108.4L969.8 108.1ZM969.8 104.5h3.6v3.6h-3.6ZM971.4 104.8h3.6v3.6h-3.6ZM982.3 106.7L985.4 107.1L981.8 110.7L978.7 110.3ZM978.7 106.7h3.6v3.6h-3.6ZM981.8 107.1h3.6v3.6h-3.6ZM987.6 106.9L990.7 106.9L994.3 110.5L991.2 110.5ZM987.6 106.9h3.6v3.6h-3.6ZM990.7 106.9h3.6v3.6h-3.6Z"/>
<path fill="#000" d="M126.7 477.8L137.5 475.4L145.5 473.4L153.3 471.0L161.1 468.3L168.7 465.2L176.2 461.7L184.2 457.4L190.8 453.2L197.4 448.5L203.5 443.5L210.2 437.2L215.6 431.6L220.6 425.8L224.4 421.1L231.7 411.3L239.4 400.6L244.1 394.3L247.9 389.6L252.2 384.6L256.5 380.0L260.1 376.5L264.8 372.2L270.1 368.1L274.0 365.4L278.1 363.1L282.5 361.2L287.5 359.5L290.9 358.6L294.0 358.0L300.3 357.2L305.0 357.0L308.7 360.7L304.0 360.9L297.7 361.7L294.6 362.3L291.2 363.2L286.2 364.9L281.8 366.8L277.7 369.1L273.8 371.8L268.5 375.9L263.8 380.2L260.2 383.7L255.9 388.3L251.6 393.3L247.8 398.0L243.1 404.3L235.4 415.0L228.1 424.8L224.3 429.5L219.3 435.3L213.9 440.9L207.2 447.2L201.1 452.2L194.5 456.9L187.9 461.1L179.9 465.4L172.4 468.9L164.8 472.0L157.0 474.7L149.2 477.1L141.2 479.1L130.3 481.5ZM126.7 477.8h3.7v3.7h-3.7ZM305.0 357.0h3.7v3.7h-3.7ZM308.7 357.0L314.9 357.3L318.0 357.7L321.1 358.2L328.9 359.9L339.3 362.6L348.7 364.5L354.9 365.3L359.6 365.6L362.7 365.7L359.0 369.4L355.9 369.3L351.2 369.0L345.0 368.2L335.6 366.3L325.2 363.6L317.4 361.9L314.3 361.4L311.2 361.0L305.0 360.7ZM305.0 357.0h3.7v3.7h-3.7ZM359.0 365.7h3.7v3.7h-3.7ZM359.0 365.7L365.1 365.4L368.1 365.1L372.6 364.5L377.1 363.6L380.0 362.9L383.0 362.0L387.4 360.6L391.8 358.9L394.7 357.6L400.4 354.7L407.4 350.4L413.5 346.0L420.6 340.2L427.6 333.8L435.0 326.2L441.0 319.1L446.8 311.4L452.1 303.7L457.7 294.3L462.2 285.9L467.2 275.8L471.2 267.0L475.6 256.5L480.4 244.3L485.4 230.6L490.0 217.2L493.8 205.2L497.4 193.0L501.6 176.7L505.6 160.1L511.5 134.7L516.9 110.0L522.6 83.3L527.1 60.8L530.5 42.9L533.4 25.6L537.1 29.4L534.2 46.6L530.8 64.5L526.3 87.0L520.6 113.7L515.2 138.4L509.3 163.8L505.3 180.4L501.1 196.7L497.5 208.9L493.7 220.9L489.1 234.3L484.1 248.0L479.3 260.2L474.9 270.7L470.9 279.5L465.9 289.6L461.4 298.0L455.8 307.4L450.5 315.1L444.7 322.8L438.7 329.9L431.3 337.5L424.3 343.9L417.2 349.7L411.1 354.1L404.1 358.4L398.4 361.3L395.5 362.6L391.1 364.3L386.7 365.7L383.7 366.6L380.8 367.3L376.3 368.2L371.8 368.8L368.8 369.1L362.7 369.4ZM359.0 365.7h3.7v3.7h-3.7ZM533.4 25.6h3.7v3.7h-3.7Z"/>
<path fill="#000" d="M138.8 415.0L148.0 413.1L151.4 416.5L142.2 418.5ZM138.8 415.0h3.5v3.5h-3.5ZM148.0 413.1h3.5v3.5h-3.5ZM160.3 409.2L164.9 407.4L169.4 405.4L172.8 408.9L168.3 410.8L163.7 412.7ZM160.3 409.2h3.5v3.5h-3.5ZM169.4 405.4h3.5v3.5h-3.5ZM181.7 399.3L187.5 396.1L190.9 394.1L194.3 397.5L190.9 399.5L185.2 402.7ZM181.7 399.3h3.5v3.5h-3.5ZM190.9 394.1h3.5v3.5h-3.5ZM203.2 385.6L212.3 377.9L215.8 381.3L206.6 389.0ZM203.2 385.6h3.5v3.5h-3.5ZM212.3 377.9h3.5v3.5h-3.5ZM224.6 366.7L233.7 357.7L237.2 361.2L228.0 370.2ZM224.6 366.7h3.5v3.5h-3.5ZM233.7 357.7h3.5v3.5h-3.5ZM245.6 345.4L250.6 340.4L254.7 336.6L258.2 340.1L254.1 343.9L249.0 348.9ZM245.6 345.4h3.5v3.5h-3.5ZM254.7 336.6h3.5v3.5h-3.5ZM267.0 327.0L271.5 324.2L276.2 321.6L279.6 325.0L275.0 327.6L270.5 330.5ZM267.0 327.0h3.5v3.5h-3.5ZM276.2 321.6h3.5v3.5h-3.5ZM288.5 316.4L293.5 314.9L297.6 314.0L301.1 317.4L297.0 318.4L291.9 319.9ZM288.5 316.4h3.5v3.5h-3.5ZM297.6 314.0h3.5v3.5h-3.5ZM309.9 312.5L310.9 312.5L314.3 315.9L313.4 315.9ZM309.9 312.5h3.5v3.5h-3.5ZM310.9 312.5h3.5v3.5h-3.5ZM314.3 312.5L317.5 312.6L322.5 313.1L319.1 316.5L314.0 316.0L310.9 315.9ZM310.9 312.5h3.5v3.5h-3.5ZM319.1 313.1h3.5v3.5h-3.5ZM334.8 315.4L344.0 317.2L340.5 320.7L331.4 318.8ZM331.4 315.4h3.5v3.5h-3.5ZM340.5 317.2h3.5v3.5h-3.5ZM356.3 319.4L361.8 320.0L365.4 320.2L362.0 323.6L358.4 323.4L352.8 322.9ZM352.8 319.4h3.5v3.5h-3.5ZM362.0 320.2h3.5v3.5h-3.5ZM374.3 319.4L379.5 318.5L383.4 317.6L386.9 321.1L383.0 322.0L377.7 322.9ZM374.3 319.4h3.5v3.5h-3.5ZM383.4 317.6h3.5v3.5h-3.5ZM395.7 313.4L400.4 311.2L404.9 308.8L408.3 312.3L403.9 314.7L399.2 316.9ZM395.7 313.4h3.5v3.5h-3.5ZM404.9 308.8h3.5v3.5h-3.5ZM417.2 301.0L421.6 297.7L426.3 293.7L429.8 297.2L425.0 301.2L420.6 304.4ZM417.2 301.0h3.5v3.5h-3.5ZM426.3 293.7h3.5v3.5h-3.5ZM438.5 281.8L443.0 276.9L446.5 272.7L450.0 276.1L446.4 280.3L441.9 285.3ZM438.5 281.8h3.5v3.5h-3.5ZM446.5 272.7h3.5v3.5h-3.5ZM455.6 260.4L461.6 251.2L465.0 254.7L459.1 263.8ZM455.6 260.4h3.5v3.5h-3.5ZM461.6 251.2h3.5v3.5h-3.5ZM468.9 238.9L473.8 229.8L477.2 233.2L472.4 242.4ZM468.9 238.9h3.5v3.5h-3.5ZM473.8 229.8h3.5v3.5h-3.5ZM479.7 217.5L483.6 208.3L487.1 211.8L483.2 220.9ZM479.7 217.5h3.5v3.5h-3.5ZM483.6 208.3h3.5v3.5h-3.5ZM488.3 196.0L491.6 186.9L495.0 190.3L491.8 199.5ZM488.3 196.0h3.5v3.5h-3.5ZM491.6 186.9h3.5v3.5h-3.5ZM495.7 174.6L498.8 165.4L502.2 168.9L499.2 178.0ZM495.7 174.6h3.5v3.5h-3.5ZM498.8 165.4h3.5v3.5h-3.5ZM502.8 153.1L505.7 144.0L509.1 147.4L506.2 156.6ZM502.8 153.1h3.5v3.5h-3.5ZM505.7 144.0h3.5v3.5h-3.5ZM509.5 131.7L512.2 122.5L515.6 126.0L512.9 135.1ZM509.5 131.7h3.5v3.5h-3.5ZM512.2 122.5h3.5v3.5h-3.5ZM515.7 110.2L518.1 101.1L521.6 104.5L519.1 113.7ZM515.7 110.2h3.5v3.5h-3.5ZM518.1 101.1h3.5v3.5h-3.5ZM521.2 88.8L523.2 79.6L526.7 83.1L524.6 92.2ZM521.2 88.8h3.5v3.5h-3.5ZM523.2 79.6h3.5v3.5h-3.5ZM525.8 67.3L527.6 58.2L531.1 61.6L529.2 70.8ZM525.8 67.3h3.5v3.5h-3.5ZM527.6 58.2h3.5v3.5h-3.5ZM529.9 45.9L531.6 36.7L535.0 40.2L533.4 49.3ZM529.9 45.9h3.5v3.5h-3.5ZM531.6 36.7h3.5v3.5h-3.5Z"/>
<path fill="#000" d="M127.5 346.9L138.3 344.5L148.8 341.8L160.7 338.2L168.1 335.6L174.1 333.2L179.8 330.5L185.5 327.2L193.1 322.1L201.9 315.6L208.3 310.3L213.8 305.1L220.3 298.6L235.9 281.7L241.3 275.7L244.5 272.1L248.2 267.1L257.7 253.1L259.7 250.5L261.9 247.9L268.4 241.1L278.5 231.7L283.5 227.8L288.9 224.1L296.1 219.9L302.0 216.9L306.8 214.8L311.4 213.3L315.9 212.4L318.9 212.2L320.8 214.1L317.8 214.3L313.3 215.2L308.7 216.7L303.9 218.8L298.0 221.8L290.8 226.0L285.4 229.7L280.4 233.6L270.3 243.0L263.8 249.8L261.6 252.4L259.6 255.0L250.1 269.0L246.4 274.0L243.2 277.6L237.8 283.6L222.2 300.5L215.7 307.0L210.2 312.2L203.8 317.5L195.0 324.0L187.4 329.1L181.7 332.4L176.0 335.1L170.0 337.5L162.6 340.1L150.7 343.7L140.2 346.4L129.4 348.8ZM127.5 346.9h1.9v1.9h-1.9ZM318.9 212.2h1.9v1.9h-1.9ZM320.8 212.2L323.7 212.4L326.7 213.0L331.1 214.3L334.0 215.5L341.2 219.2L353.9 226.8L359.8 230.1L362.8 231.6L365.8 232.9L370.6 234.5L373.7 235.3L378.2 235.9L381.2 236.0L379.3 237.9L376.3 237.8L371.8 237.2L368.7 236.4L363.9 234.8L360.9 233.5L357.9 232.0L352.0 228.7L339.3 221.1L332.1 217.4L329.2 216.2L324.8 214.9L321.8 214.3L318.9 214.1ZM318.9 212.2h1.9v1.9h-1.9ZM379.3 236.0h1.9v1.9h-1.9ZM379.3 236.0L382.3 235.9L386.7 235.1L391.3 233.9L396.1 232.1L399.3 230.7L403.3 228.6L408.5 225.5L412.3 222.9L431.8 209.0L435.6 206.0L438.9 203.1L445.4 196.6L451.6 190.0L457.7 182.9L462.4 176.7L465.3 172.4L469.5 165.4L475.2 155.1L479.7 147.4L485.8 137.8L490.0 131.0L492.4 126.7L493.8 123.7L495.8 119.0L498.0 112.7L501.6 100.2L504.7 90.6L507.0 84.6L516.0 62.5L519.6 53.1L524.0 40.8L528.0 27.6L530.0 29.4L525.9 42.7L521.5 55.0L517.9 64.4L508.9 86.5L506.6 92.5L503.5 102.1L499.9 114.6L497.7 120.9L495.7 125.6L494.3 128.6L491.9 132.9L487.7 139.7L481.6 149.3L477.1 157.0L471.4 167.3L467.2 174.3L464.3 178.6L459.6 184.8L453.5 191.9L447.3 198.5L440.8 205.0L437.5 207.9L433.7 210.9L414.2 224.8L410.4 227.4L405.2 230.5L401.2 232.6L398.0 234.0L393.2 235.8L388.6 237.0L384.2 237.8L381.2 237.9ZM379.3 236.0h1.9v1.9h-1.9ZM528.0 27.6h1.9v1.9h-1.9Z"/>
<path fill="#000" d="M128.5 345.9L130.2 345.6L133.4 348.8L131.7 349.1ZM128.5 345.9h3.2v3.2h-3.2ZM130.2 345.6h3.2v3.2h-3.2ZM134.9 344.5L136.6 344.1L139.8 347.3L138.1 347.7ZM134.9 344.5h3.2v3.2h-3.2ZM136.6 344.1h3.2v3.2h-3.2ZM141.3 343.0L143.0 342.5L146.2 345.7L144.5 346.2ZM141.3 343.0h3.2v3.2h-3.2ZM143.0 342.5h3.2v3.2h-3.2ZM147.7 341.3L149.4 340.8L152.6 344.0L150.9 344.5ZM147.7 341.3h3.2v3.2h-3.2ZM149.4 340.8h3.2v3.2h-3.2ZM154.1 339.4L155.8 338.9L159.0 342.1L157.3 342.6ZM154.1 339.4h3.2v3.2h-3.2ZM155.8 338.9h3.2v3.2h-3.2ZM160.5 337.4L162.2 336.8L165.4 340.0L163.7 340.6ZM160.5 337.4h3.2v3.2h-3.2ZM162.2 336.8h3.2v3.2h-3.2ZM166.9 335.2L168.6 334.5L171.8 337.7L170.1 338.4ZM166.9 335.2h3.2v3.2h-3.2ZM168.6 334.5h3.2v3.2h-3.2ZM173.3 332.6L175.0 331.9L178.2 335.1L176.5 335.8ZM173.3 332.6h3.2v3.2h-3.2ZM175.0 331.9h3.2v3.2h-3.2ZM179.7 329.6L181.4 328.6L184.6 331.8L182.9 332.8ZM179.7 329.6h3.2v3.2h-3.2ZM181.4 328.6h3.2v3.2h-3.2ZM186.1 325.8L187.8 324.7L191.0 327.9L189.3 329.0ZM186.1 325.8h3.2v3.2h-3.2ZM187.8 324.7h3.2v3.2h-3.2ZM192.5 321.5L194.2 320.2L197.4 323.4L195.7 324.7ZM192.5 321.5h3.2v3.2h-3.2ZM194.2 320.2h3.2v3.2h-3.2ZM198.9 316.7L200.6 315.4L203.8 318.6L202.1 319.9ZM198.9 316.7h3.2v3.2h-3.2ZM200.6 315.4h3.2v3.2h-3.2ZM205.3 311.7L207.0 310.2L210.2 313.4L208.5 314.9ZM205.3 311.7h3.2v3.2h-3.2ZM207.0 310.2h3.2v3.2h-3.2ZM211.7 305.9L213.4 304.2L216.6 307.4L214.9 309.1ZM211.7 305.9h3.2v3.2h-3.2ZM213.4 304.2h3.2v3.2h-3.2ZM218.0 299.6L219.7 297.9L222.9 301.1L221.2 302.8ZM218.0 299.6h3.2v3.2h-3.2ZM219.7 297.9h3.2v3.2h-3.2ZM224.0 293.2L225.5 291.5L228.7 294.7L227.2 296.4ZM224.0 293.2h3.2v3.2h-3.2ZM225.5 291.5h3.2v3.2h-3.2ZM229.9 286.8L231.5 285.1L234.7 288.3L233.1 290.0ZM229.9 286.8h3.2v3.2h-3.2ZM231.5 285.1h3.2v3.2h-3.2ZM235.9 280.4L237.5 278.7L240.7 281.9L239.1 283.6ZM235.9 280.4h3.2v3.2h-3.2ZM237.5 278.7h3.2v3.2h-3.2ZM241.7 274.0L243.1 272.3L246.3 275.5L244.9 277.2ZM241.7 274.0h3.2v3.2h-3.2ZM243.1 272.3h3.2v3.2h-3.2ZM246.8 267.6L248.0 265.9L251.2 269.1L250.0 270.8ZM246.8 267.6h3.2v3.2h-3.2ZM248.0 265.9h3.2v3.2h-3.2ZM251.2 261.2L252.4 259.5L255.6 262.7L254.4 264.4ZM251.2 261.2h3.2v3.2h-3.2ZM252.4 259.5h3.2v3.2h-3.2ZM255.5 254.8L256.6 253.1L259.8 256.3L258.7 258.0ZM255.5 254.8h3.2v3.2h-3.2ZM256.6 253.1h3.2v3.2h-3.2ZM260.3 248.4L261.8 246.7L265.0 249.9L263.5 251.6ZM260.3 248.4h3.2v3.2h-3.2ZM261.8 246.7h3.2v3.2h-3.2ZM266.2 242.0L267.9 240.3L271.1 243.5L269.4 245.2ZM266.2 242.0h3.2v3.2h-3.2ZM267.9 240.3h3.2v3.2h-3.2ZM272.6 235.8L274.3 234.2L277.5 237.4L275.8 239.0ZM272.6 235.8h3.2v3.2h-3.2ZM274.3 234.2h3.2v3.2h-3.2ZM279.0 230.0L280.7 228.7L283.9 231.9L282.2 233.2ZM279.0 230.0h3.2v3.2h-3.2ZM280.7 228.7h3.2v3.2h-3.2ZM285.4 225.3L287.1 224.2L290.3 227.4L288.6 228.5ZM285.4 225.3h3.2v3.2h-3.2ZM287.1 224.2h3.2v3.2h-3.2ZM291.8 221.3L293.5 220.3L296.7 223.5L295.0 224.5ZM291.8 221.3h3.2v3.2h-3.2ZM293.5 220.3h3.2v3.2h-3.2ZM298.2 217.8L299.9 217.0L303.1 220.2L301.4 221.0ZM298.2 217.8h3.2v3.2h-3.2ZM299.9 217.0h3.2v3.2h-3.2ZM304.6 214.8L306.3 214.1L309.5 217.3L307.8 218.0ZM304.6 214.8h3.2v3.2h-3.2ZM306.3 214.1h3.2v3.2h-3.2ZM311.0 212.6L312.7 212.2L315.9 215.4L314.2 215.8ZM311.0 212.6h3.2v3.2h-3.2ZM312.7 212.2h3.2v3.2h-3.2ZM317.4 211.6L318.2 211.6L321.4 214.8L320.6 214.8ZM317.4 211.6h3.2v3.2h-3.2ZM318.2 211.6h3.2v3.2h-3.2ZM321.4 211.6L322.3 211.6L319.1 214.8L318.2 214.8ZM318.2 211.6h3.2v3.2h-3.2ZM319.1 211.6h3.2v3.2h-3.2ZM327.0 212.3L328.7 212.7L325.5 215.9L323.8 215.5ZM323.8 212.3h3.2v3.2h-3.2ZM325.5 212.7h3.2v3.2h-3.2ZM333.4 214.3L335.1 215.1L331.9 218.3L330.2 217.5ZM330.2 214.3h3.2v3.2h-3.2ZM331.9 215.1h3.2v3.2h-3.2ZM339.8 217.5L341.5 218.4L338.3 221.6L336.6 220.7ZM336.6 217.5h3.2v3.2h-3.2ZM338.3 218.4h3.2v3.2h-3.2ZM346.2 221.1L347.9 222.1L344.7 225.3L343.0 224.3ZM343.0 221.1h3.2v3.2h-3.2ZM344.7 222.1h3.2v3.2h-3.2ZM352.6 225.0L354.3 226.0L351.1 229.2L349.4 228.2ZM349.4 225.0h3.2v3.2h-3.2ZM351.1 226.0h3.2v3.2h-3.2ZM359.0 228.7L360.7 229.6L357.5 232.8L355.8 231.9ZM355.8 228.7h3.2v3.2h-3.2ZM357.5 229.6h3.2v3.2h-3.2ZM365.4 231.8L367.1 232.5L363.9 235.7L362.2 235.0ZM362.2 231.8h3.2v3.2h-3.2ZM363.9 232.5h3.2v3.2h-3.2ZM371.8 234.0L373.5 234.4L370.3 237.6L368.6 237.2ZM368.6 234.0h3.2v3.2h-3.2ZM370.3 234.4h3.2v3.2h-3.2ZM378.2 235.2L379.9 235.3L376.7 238.5L375.0 238.4ZM375.0 235.2h3.2v3.2h-3.2ZM376.7 235.3h3.2v3.2h-3.2ZM381.4 235.2L383.1 235.0L386.3 238.2L384.6 238.4ZM381.4 235.2h3.2v3.2h-3.2ZM383.1 235.0h3.2v3.2h-3.2ZM387.8 234.0L389.5 233.5L392.7 236.7L391.0 237.2ZM387.8 234.0h3.2v3.2h-3.2ZM389.5 233.5h3.2v3.2h-3.2ZM394.2 231.9L395.9 231.3L399.1 234.5L397.4 235.1ZM394.2 231.9h3.2v3.2h-3.2ZM395.9 231.3h3.2v3.2h-3.2ZM400.6 229.1L402.3 228.2L405.5 231.4L403.8 232.3ZM400.6 229.1h3.2v3.2h-3.2ZM402.3 228.2h3.2v3.2h-3.2ZM407.0 225.4L408.7 224.3L411.9 227.5L410.2 228.6ZM407.0 225.4h3.2v3.2h-3.2ZM408.7 224.3h3.2v3.2h-3.2ZM413.4 221.0L415.1 219.7L418.3 222.9L416.6 224.2ZM413.4 221.0h3.2v3.2h-3.2ZM415.1 219.7h3.2v3.2h-3.2ZM419.8 216.4L421.5 215.2L424.7 218.4L423.0 219.6ZM419.8 216.4h3.2v3.2h-3.2ZM421.5 215.2h3.2v3.2h-3.2ZM426.2 211.9L427.9 210.6L431.1 213.8L429.4 215.1ZM426.2 211.9h3.2v3.2h-3.2ZM427.9 210.6h3.2v3.2h-3.2ZM432.6 207.2L434.3 205.8L437.5 209.0L435.8 210.4ZM432.6 207.2h3.2v3.2h-3.2ZM434.3 205.8h3.2v3.2h-3.2ZM439.0 201.7L440.7 200.0L443.9 203.2L442.2 204.9ZM439.0 201.7h3.2v3.2h-3.2ZM440.7 200.0h3.2v3.2h-3.2ZM445.4 195.3L447.0 193.6L450.2 196.8L448.6 198.5ZM445.4 195.3h3.2v3.2h-3.2ZM447.0 193.6h3.2v3.2h-3.2ZM451.3 188.9L452.8 187.2L456.0 190.4L454.5 192.1ZM451.3 188.9h3.2v3.2h-3.2ZM452.8 187.2h3.2v3.2h-3.2ZM456.8 182.5L458.1 180.8L461.3 184.0L460.0 185.7ZM456.8 182.5h3.2v3.2h-3.2ZM458.1 180.8h3.2v3.2h-3.2ZM461.7 176.1L462.9 174.4L466.1 177.6L464.9 179.3ZM461.7 176.1h3.2v3.2h-3.2ZM462.9 174.4h3.2v3.2h-3.2ZM465.9 169.7L466.9 168.0L470.1 171.2L469.1 172.9ZM465.9 169.7h3.2v3.2h-3.2ZM466.9 168.0h3.2v3.2h-3.2ZM469.6 163.3L470.6 161.6L473.8 164.8L472.8 166.5ZM469.6 163.3h3.2v3.2h-3.2ZM470.6 161.6h3.2v3.2h-3.2ZM473.1 156.9L474.1 155.2L477.3 158.4L476.3 160.1ZM473.1 156.9h3.2v3.2h-3.2ZM474.1 155.2h3.2v3.2h-3.2ZM476.8 150.5L477.7 148.8L480.9 152.0L480.0 153.7ZM476.8 150.5h3.2v3.2h-3.2ZM477.7 148.8h3.2v3.2h-3.2ZM480.6 144.1L481.7 142.4L484.9 145.6L483.8 147.3ZM480.6 144.1h3.2v3.2h-3.2ZM481.7 142.4h3.2v3.2h-3.2ZM484.8 137.7L485.9 136.0L489.1 139.2L488.0 140.9ZM484.8 137.7h3.2v3.2h-3.2ZM485.9 136.0h3.2v3.2h-3.2ZM488.7 131.3L489.8 129.6L493.0 132.8L491.9 134.5ZM488.7 131.3h3.2v3.2h-3.2ZM489.8 129.6h3.2v3.2h-3.2ZM492.3 124.9L493.1 123.2L496.3 126.4L495.5 128.1ZM492.3 124.9h3.2v3.2h-3.2ZM493.1 123.2h3.2v3.2h-3.2ZM495.1 118.5L495.7 116.8L498.9 120.0L498.3 121.7ZM495.1 118.5h3.2v3.2h-3.2ZM495.7 116.8h3.2v3.2h-3.2ZM497.3 112.1L497.9 110.4L501.1 113.6L500.5 115.3ZM497.3 112.1h3.2v3.2h-3.2ZM497.9 110.4h3.2v3.2h-3.2ZM499.2 105.7L499.7 104.0L502.9 107.2L502.4 108.9ZM499.2 105.7h3.2v3.2h-3.2ZM499.7 104.0h3.2v3.2h-3.2ZM501.0 99.3L501.5 97.6L504.7 100.8L504.2 102.5ZM501.0 99.3h3.2v3.2h-3.2ZM501.5 97.6h3.2v3.2h-3.2ZM503.0 92.9L503.6 91.2L506.8 94.4L506.2 96.1ZM503.0 92.9h3.2v3.2h-3.2ZM503.6 91.2h3.2v3.2h-3.2ZM505.3 86.5L506.0 84.8L509.2 88.0L508.5 89.7ZM505.3 86.5h3.2v3.2h-3.2ZM506.0 84.8h3.2v3.2h-3.2ZM507.9 80.1L508.6 78.4L511.8 81.6L511.1 83.3ZM507.9 80.1h3.2v3.2h-3.2ZM508.6 78.4h3.2v3.2h-3.2ZM510.5 73.7L511.2 72.0L514.4 75.2L513.7 76.9ZM510.5 73.7h3.2v3.2h-3.2ZM511.2 72.0h3.2v3.2h-3.2ZM513.2 67.3L513.9 65.6L517.1 68.8L516.4 70.5ZM513.2 67.3h3.2v3.2h-3.2ZM513.9 65.6h3.2v3.2h-3.2ZM515.8 60.9L516.4 59.2L519.6 62.4L519.0 64.1ZM515.8 60.9h3.2v3.2h-3.2ZM516.4 59.2h3.2v3.2h-3.2ZM518.2 54.5L518.9 52.8L522.1 56.0L521.4 57.7ZM518.2 54.5h3.2v3.2h-3.2ZM518.9 52.8h3.2v3.2h-3.2ZM520.6 48.1L521.2 46.4L524.4 49.6L523.8 51.3ZM520.6 48.1h3.2v3.2h-3.2ZM521.2 46.4h3.2v3.2h-3.2ZM522.8 41.7L523.3 40.0L526.5 43.2L526.0 44.9ZM522.8 41.7h3.2v3.2h-3.2ZM523.3 40.0h3.2v3.2h-3.2ZM524.8 35.3L525.4 33.6L528.6 36.8L528.0 38.5ZM524.8 35.3h3.2v3.2h-3.2ZM525.4 33.6h3.2v3.2h-3.2ZM526.8 28.9L527.3 27.2L530.5 30.4L530.0 32.1ZM526.8 28.9h3.2v3.2h-3.2ZM527.3 27.2h3.2v3.2h-3.2Z"/>
</svg>
<div class="t b" style="top:795.9px;font-size:46.4px;left:94.5px;transform:translateX(-50%) scale(0.946,1.000);transform-origin:center top;">7090</div>
<div class="t b" style="top:797.4px;font-size:46.4px;left:275.6px;transform:translateX(-50%) scale(0.946,1.000);transform-origin:center top;">7<svg viewBox="0 0 1139 1409" style="position:static;width:0.5562em;height:0.688em;display:inline-block;vertical-align:baseline;overflow:visible;"><path fill="#000" transform="matrix(1 0 0 -0.9572 0 1409)" d="M806 0H525V1059Q371 915 162 846V1101Q272 1137 401 1237.5T578 1472H806Z"/></svg>00</div>
<div class="t b" style="top:797.4px;font-size:46.4px;left:452.8px;transform:translateX(-50%) scale(0.946,1.000);transform-origin:center top;">7<svg viewBox="0 0 1139 1409" style="position:static;width:0.5562em;height:0.688em;display:inline-block;vertical-align:baseline;overflow:visible;"><path fill="#000" transform="matrix(1 0 0 -0.9572 0 1409)" d="M806 0H525V1059Q371 915 162 846V1101Q272 1137 401 1237.5T578 1472H806Z"/></svg><svg viewBox="0 0 1139 1409" style="position:static;width:0.5562em;height:0.688em;display:inline-block;vertical-align:baseline;overflow:visible;"><path fill="#000" transform="matrix(1 0 0 -0.9572 0 1409)" d="M806 0H525V1059Q371 915 162 846V1101Q272 1137 401 1237.5T578 1472H806Z"/></svg>0</div>
<div class="t b" style="top:798.1px;font-size:46.4px;left:633.2px;transform:translateX(-50%) scale(0.946,1.000);transform-origin:center top;">7<svg viewBox="0 0 1139 1409" style="position:static;width:0.5562em;height:0.688em;display:inline-block;vertical-align:baseline;overflow:visible;"><path fill="#000" transform="matrix(1 0 0 -0.9572 0 1409)" d="M806 0H525V1059Q371 915 162 846V1101Q272 1137 401 1237.5T578 1472H806Z"/></svg>20</div>
<div class="t b" style="top:797.4px;font-size:46.4px;left:811.8px;transform:translateX(-50%) scale(0.946,1.000);transform-origin:center top;">7<svg viewBox="0 0 1139 1409" style="position:static;width:0.5562em;height:0.688em;display:inline-block;vertical-align:baseline;overflow:visible;"><path fill="#000" transform="matrix(1 0 0 -0.9572 0 1409)" d="M806 0H525V1059Q371 915 162 846V1101Q272 1137 401 1237.5T578 1472H806Z"/></svg>30</div>
<div class="t b" style="top:798.8px;font-size:46.4px;left:989.9px;transform:translateX(-50%) scale(0.946,1.000);transform-origin:center top;">7<svg viewBox="0 0 1139 1409" style="position:static;width:0.5562em;height:0.688em;display:inline-block;vertical-align:baseline;overflow:visible;"><path fill="#000" transform="matrix(1 0 0 -0.9572 0 1409)" d="M806 0H525V1059Q371 915 162 846V1101Q272 1137 401 1237.5T578 1472H806Z"/></svg>40</div>
<div class="t" style="top:503.2px;font-size:46.5px;left:145.5px;transform:translateX(-50%) scale(0.972,1.000);transform-origin:center top;">7<svg viewBox="0 0 1139 1409" style="position:static;width:0.5562em;height:0.688em;display:inline-block;vertical-align:baseline;overflow:visible;"><path fill="#000" transform="matrix(1 0 0 -0.9572 0 1409)" d="M763 0H583V1147Q518 1085 412.5 1023T223 930V1104Q374 1175 487 1276T647 1472H763Z"/></svg><svg viewBox="0 0 1139 1409" style="position:static;width:0.5562em;height:0.688em;display:inline-block;vertical-align:baseline;overflow:visible;margin-left:-0.0742em;"><path fill="#000" transform="matrix(1 0 0 -0.9572 0 1409)" d="M763 0H583V1147Q518 1085 412.5 1023T223 930V1104Q374 1175 487 1276T647 1472H763Z"/></svg>0</div>
<div class="t" style="top:503.8px;font-size:46.5px;left:352.0px;transform:translateX(-50%) scale(0.972,1.000);transform-origin:center top;">7<svg viewBox="0 0 1139 1409" style="position:static;width:0.5562em;height:0.688em;display:inline-block;vertical-align:baseline;overflow:visible;"><path fill="#000" transform="matrix(1 0 0 -0.9572 0 1409)" d="M763 0H583V1147Q518 1085 412.5 1023T223 930V1104Q374 1175 487 1276T647 1472H763Z"/></svg><svg viewBox="0 0 1139 1409" style="position:static;width:0.5562em;height:0.688em;display:inline-block;vertical-align:baseline;overflow:visible;margin-left:-0.0742em;"><path fill="#000" transform="matrix(1 0 0 -0.9572 0 1409)" d="M763 0H583V1147Q518 1085 412.5 1023T223 930V1104Q374 1175 487 1276T647 1472H763Z"/></svg>6</div>
<div class="t" style="top:506.0px;font-size:46.5px;left:574.1px;transform:translateX(-50%) scale(0.950,1.000);transform-origin:center top;">7<svg viewBox="0 0 1139 1409" style="position:static;width:0.5562em;height:0.688em;display:inline-block;vertical-align:baseline;overflow:visible;"><path fill="#000" transform="matrix(1 0 0 -0.9572 0 1409)" d="M763 0H583V1147Q518 1085 412.5 1023T223 930V1104Q374 1175 487 1276T647 1472H763Z"/></svg>22</div>
<div class="t b" style="top:555.5px;font-size:46.0px;left:249.3px;transform:translateX(-50%) scale(1.000,1.100);transform-origin:center top;">4</div>
<div class="t b" style="top:635.5px;font-size:46.0px;left:249.0px;transform:translateX(-50%) scale(1.050,1.100);transform-origin:center top;">2</div>
<div class="t b" style="top:712.1px;font-size:46.0px;left:248.6px;transform:translateX(-50%) scale(1.120,1.100);transform-origin:center top;"><svg viewBox="0 0 1139 1409" style="position:static;width:0.5562em;height:0.688em;display:inline-block;vertical-align:baseline;overflow:visible;"><path fill="#000" transform="matrix(1 0 0 -0.9572 0 1409)" d="M806 0H525V1059Q371 915 162 846V1101Q272 1137 401 1237.5T578 1472H806Z"/></svg></div>
<div class="t b" style="top:55.0px;font-size:42.5px;left:156.3px;transform:scale(1.020,1.000);transform-origin:left top;letter-spacing:0.9px;">pre-edge</div>
<div class="t b" style="left:0;top:0;font-size:67.7px;transform-origin:0 0;transform:translate(361.99px,858.38px) scale(0.9579,1.0022);">E</div>
<div class="t b" style="left:0;top:0;font-size:67.7px;transform-origin:0 0;transform:translate(406.18px,861.11px) scale(0.9374,0.9534);">n</div>
<div class="t b" style="left:0;top:0;font-size:67.7px;transform-origin:0 0;transform:translate(445.12px,860.51px) scale(1.0462,0.9638);">e</div>
<div class="t b" style="left:0;top:0;font-size:67.7px;transform-origin:0 0;transform:translate(484.08px,861.11px) scale(1.0265,0.9534);">r</div>
<div class="t b" style="left:0;top:0;font-size:67.7px;transform-origin:0 0;transform:translate(509.31px,860.47px) scale(0.9794,0.9655);">g</div>
<div class="t b" style="left:0;top:0;font-size:67.7px;transform-origin:0 0;transform:translate(550.85px,860.62px) scale(0.9088,0.9668);">y</div>
<div class="t b" style="left:0;top:0;font-size:67.7px;transform-origin:0 0;transform:translate(603.56px,861.26px) scale(0.8421,0.9492);">(</div>
<div class="t b" style="left:0;top:0;font-size:67.7px;transform-origin:0 0;transform:translate(625.53px,860.51px) scale(1.0062,0.9638);">e</div>
<div class="t b" style="left:0;top:0;font-size:67.7px;transform-origin:0 0;transform:translate(662.51px,858.38px) scale(0.9841,1.0022);">V</div>
<div class="t b" style="left:0;top:0;font-size:67.7px;transform-origin:0 0;transform:translate(710.09px,861.26px) scale(0.8421,0.9492);">)</div>
<div class="t b" style="left:32.7px;top:683.8px;font-size:68px;transform:translate(-50%,-50%) rotate(-90deg) scale(0.887,1.026);">F</div>
<div class="t b" style="left:34.2px;top:652.6px;font-size:68px;transform:translate(-50%,-50%) rotate(-90deg) scale(0.957,0.964);">l</div>
<div class="t b" style="left:34.3px;top:622.9px;font-size:68px;transform:translate(-50%,-50%) rotate(-90deg) scale(0.969,0.960);">u</div>
<div class="t b" style="left:34.3px;top:584.7px;font-size:68px;transform:translate(-50%,-50%) rotate(-90deg) scale(0.983,0.960);">o</div>
<div class="t b" style="left:34.3px;top:555.7px;font-size:68px;transform:translate(-50%,-50%) rotate(-90deg) scale(0.939,0.960);">r</div>
<div class="t b" style="left:34.3px;top:523.5px;font-size:68px;transform:translate(-50%,-50%) rotate(-90deg) scale(1.009,0.960);">e</div>
<div class="t b" style="left:34.3px;top:485.7px;font-size:68px;transform:translate(-50%,-50%) rotate(-90deg) scale(1.037,0.960);">s</div>
<div class="t b" style="left:34.3px;top:448.6px;font-size:68px;transform:translate(-50%,-50%) rotate(-90deg) scale(0.973,0.960);">c</div>
<div class="t b" style="left:34.3px;top:411.0px;font-size:68px;transform:translate(-50%,-50%) rotate(-90deg) scale(1.009,0.960);">e</div>
<div class="t b" style="left:34.3px;top:373.9px;font-size:68px;transform:translate(-50%,-50%) rotate(-90deg) scale(0.935,0.960);">n</div>
<div class="t b" style="left:34.3px;top:334.5px;font-size:68px;transform:translate(-50%,-50%) rotate(-90deg) scale(0.958,0.960);">c</div>
<div class="t b" style="left:34.3px;top:296.1px;font-size:68px;transform:translate(-50%,-50%) rotate(-90deg) scale(0.973,0.960);">e</div>
<div class="t b" style="left:34.3px;top:242.4px;font-size:68px;transform:translate(-50%,-50%) rotate(-90deg) scale(0.969,0.960);">s</div>
<div class="t b" style="left:34.3px;top:200.9px;font-size:68px;transform:translate(-50%,-50%) rotate(-90deg) scale(0.969,0.960);">u</div>
<div class="t b" style="left:34.3px;top:153.2px;font-size:68px;transform:translate(-50%,-50%) rotate(-90deg) scale(0.959,0.960);">m</div>
</body></html>
